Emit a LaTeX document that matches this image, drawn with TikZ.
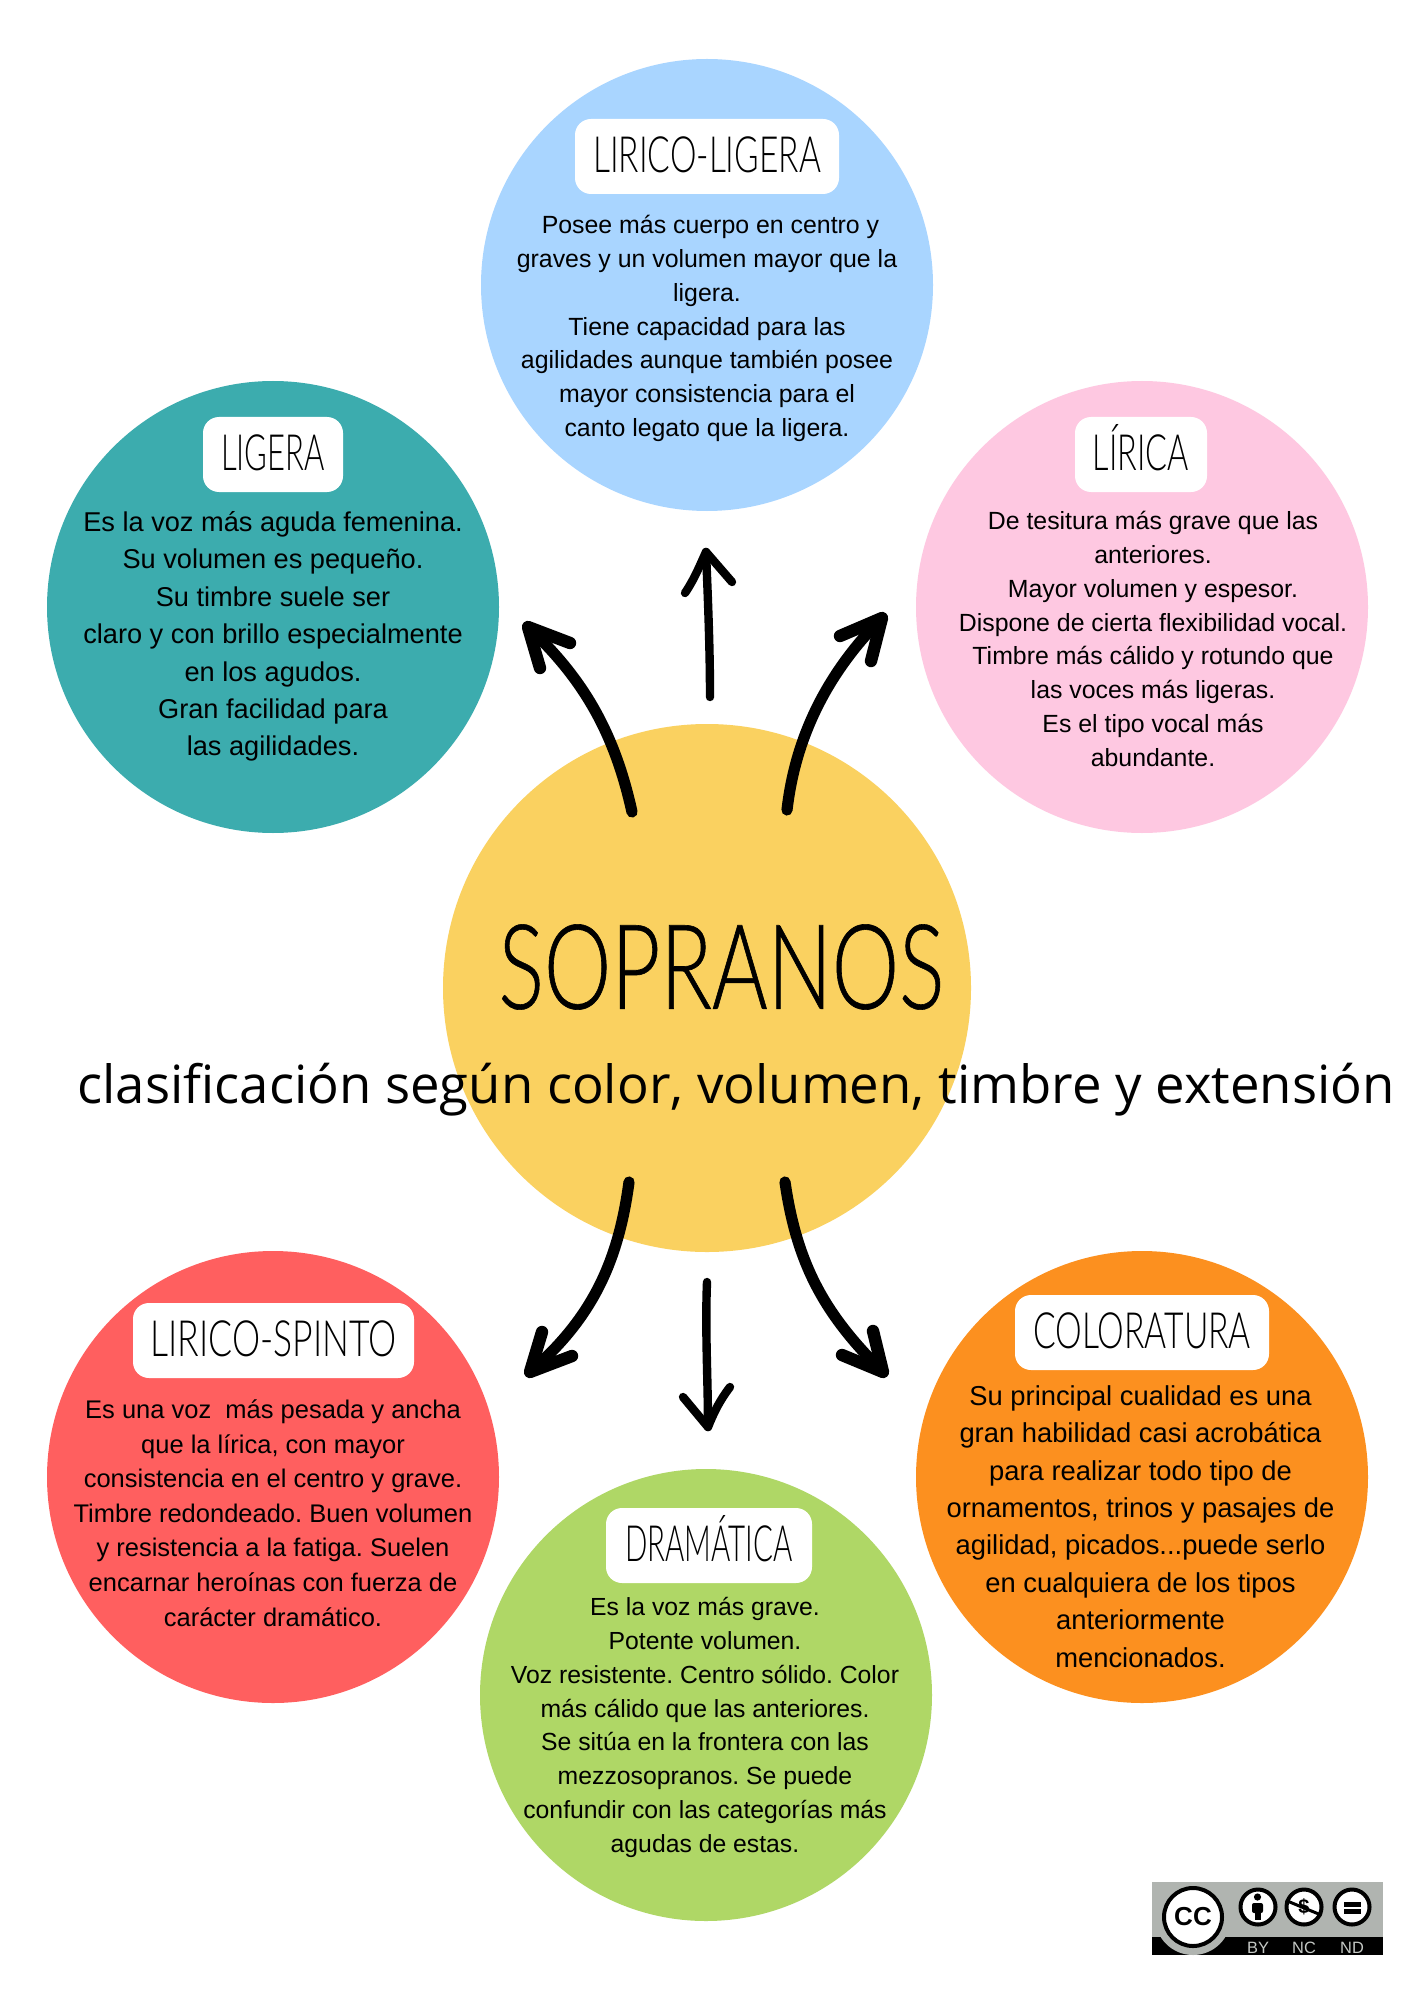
\documentclass[tikz,border=0pt]{standalone}
\usepackage{graphicx}
\usepackage{fontspec}
\setmainfont{Liberation Sans}
\newfontfamily\subfont{Open Sans}
\newfontfamily\titlefont[FakeStretch=0.62]{Lato Light}
\newfontfamily\bigfont[FakeStretch=0.72,FakeBold=0.5]{Lato Light}
\newcommand{\sx}[2]{\scalebox{#1}[1]{#2}}
\definecolor{cblue}{HTML}{A9D5FF}
\definecolor{cteal}{HTML}{3CACAE}
\definecolor{cpink}{HTML}{FEC8E1}
\definecolor{cyellow}{HTML}{FAD160}
\definecolor{cred}{HTML}{FF5F5F}
\definecolor{corange}{HTML}{FC901F}
\definecolor{cgreen}{HTML}{AFD766}
\definecolor{ccgray}{HTML}{B0B4B0}
\definecolor{cclight}{HTML}{C4C8C4}
\tikzset{
  disc/.style={circle,minimum size=226pt,inner sep=0pt,outer sep=0pt,fill=#1},
  card/.style={fill=white,rounded corners=8pt,inner sep=0pt,outer sep=0pt,minimum height=37.5pt,text height=18pt,text depth=2pt,font=\titlefont\fontsize{25}{25}\selectfont,text=black},
  bodyt/.style 2 args={align=center,inner sep=0pt,font=\fontsize{#1}{#2}\selectfont\frenchspacing,text=black},
  sk/.style={draw=black,line cap=round,line join=round,line width=5.6pt},
  skh/.style={draw=black,line cap=round,line join=round,line width=6.2pt},
  skm/.style={draw=black,line cap=round,line join=round,line width=4.2pt},
  badge/.style={circle,draw=black,fill=white,line width=2pt,minimum size=17.5pt,inner sep=0pt},
  cclab/.style={inner sep=0pt,text=cclight,font=\fontsize{8.2}{8.2}\selectfont},
}
\begin{document}
\begin{tikzpicture}[x=0.5pt,y=-0.5pt]
\useasboundingbox (0,0) rectangle (1414,2000);
\fill[white] (0,0) rectangle (1414,2000);
% discs
\node[disc=cyellow,minimum size=264pt] (centre) at (707,988) {};
\node[disc=cblue] (dblue) at (707,285) {};
\node[disc=cteal] (dteal) at (273,607) {};
\node[disc=cpink] (dpink) at (1142,607) {};
\node[disc=cred] (dred) at (273,1477) {};
\node[disc=corange] (dorange) at (1142,1477) {};
\node[disc=cgreen] (dgreen) at (706,1695) {};
% main titles
\node[inner sep=0pt,font=\bigfont\fontsize{59}{59}\selectfont] (main) at (721.5,967) {SOPRANOS};
\node[inner sep=0pt,font=\subfont\fontsize{26.33}{26.33}\selectfont] (sub) at (736,1090) {clasificación según color, volumen, timbre y extensión};
% cards
\node[card,minimum width=132pt] (tblue) at (707,156.5) {\sx{1.08}{LIRICO-LIGERA}};
\node[card,minimum width=70pt] (tteal) at (273,454.5) {LIGERA};
\node[card,minimum width=66pt] (tpink) at (1141,454.5) {\sx{1.045}{LÍRICA}};
\node[card,minimum width=140.5pt] (tred) at (273.5,1340.5) {\sx{1.147}{LIRICO-SPINTO}};
\node[card,minimum width=127pt] (torange) at (1142,1332.5) {\sx{1.085}{COLORATURA}};
\node[card,minimum width=103pt] (tgreen) at (709,1545.5) {\sx{0.95}{DRAMÁTICA}};
% body texts
\node[bodyt={12.44}{16.9}] (bblue) at (707,328.5) {\hspace{3.5pt}Posee más cuerpo en centro y\\graves y un volumen mayor que la\\ligera.\\Tiene capacidad para las\\agilidades aunque también posee\\mayor consistencia para el\\canto legato que la ligera.};
\node[bodyt={13.6}{18.7}] (bteal) at (273,636.5) {Es la voz más aguda femenina.\\Su volumen es pequeño.\\Su timbre suele ser\\claro y con brillo especialmente\\en los agudos.\\Gran facilidad para\\las agilidades.};
\node[bodyt={12.43}{16.9}] (bpink) at (1153,639) {De tesitura más grave que las\\anteriores.\\Mayor volumen y espesor.\\Dispone de cierta flexibilidad vocal.\\Timbre más cálido y rotundo que\\las voces más ligeras.\\Es el tipo vocal más\\abundante.};
\node[bodyt={12.75}{17.3}] (bred) at (273,1513) {Es una voz\ \ más pesada y ancha\\que la lírica, con mayor\\consistencia en el centro y grave.\\Timbre redondeado. Buen volumen\\y resistencia a la fatiga. Suelen\\encarnar heroínas con fuerza de\\carácter dramático.};
\node[bodyt={13.68}{18.7}] (borange) at (1140.5,1526.5) {Su principal cualidad es una\\gran habilidad casi acrobática\\para realizar todo tipo de\\ornamentos, trinos y pasajes de\\agilidad, picados...puede serlo\\en cualquiera de los tipos\\anteriormente\\mencionados.};
\node[bodyt={12.38}{16.9}] (bgreen) at (705,1727.5) {Es la voz más grave.\\Potente volumen.\\Voz resistente. Centro sólido. Color\\más cálido que las anteriores.\\Se sitúa en la frontera con las\\mezzosopranos. Se puede\\confundir con las categorías más\\agudas de estas.};
% arrow ends
\coordinate (a1s) at (632,812); \coordinate (a1e) at (528,627);
\coordinate (a2s) at (710,697); \coordinate (a2e) at (706,552);
\coordinate (a3s) at (787,810); \coordinate (a3e) at (882,618);
\coordinate (a4s) at (629,1182); \coordinate (a4e) at (530,1372);
\coordinate (a5s) at (707,1282); \coordinate (a5e) at (708,1427);
\coordinate (a6s) at (785,1182); \coordinate (a6e) at (883,1372);
% arrows
\draw[sk] (a1s) .. controls (615,735) and (585,680) .. (a1e);
\draw[skh] (540,668) -- (a1e) -- (570,643);
\draw[skm] (a2s) .. controls (710,650) and (708,600) .. (a2e);
\draw[skm] (685,593) .. controls (695,578) and (700,565) .. (a2e) -- (732,582);
\draw[sk] (a3s) .. controls (795,740) and (825,675) .. (a3e);
\draw[skh] (840,636) -- (a3e) -- (871,661);
\draw[sk] (a4s) .. controls (618,1265) and (590,1320) .. (a4e);
\draw[skh] (542,1332) -- (a4e) -- (572,1356);
\draw[skm] (a5s) .. controls (705,1330) and (708,1380) .. (a5e);
\draw[skm] (730,1387) .. controls (720,1400) and (714,1412) .. (a5e) -- (683,1397);
\draw[sk] (a6s) .. controls (797,1265) and (825,1315) .. (a6e);
\draw[skh] (873,1331) -- (a6e) -- (842,1355);
% licence badge
\fill[ccgray] (1152,1882) rectangle (1383,1955);
\fill[black] (1152,1937) rectangle (1383,1955);
\begin{scope}
\clip (1152,1882) rectangle (1383,1955);
\fill[ccgray] (1193,1917) circle[radius=38];
\end{scope}
\node[circle,draw=black,fill=white,line width=2pt,minimum size=29pt,inner sep=0pt,font=\bfseries\fontsize{13}{13}\selectfont] (ccb) at (1193,1917) {CC};
\node[badge] (by) at (1258,1907) {};
\node[badge] (nc) at (1304,1907) {};
\node[badge] (nd) at (1352,1907) {};
\fill[black] (1257.5,1897) circle[radius=3.6];
\fill[black,rounded corners=1pt] (1252,1903) rectangle (1263,1913);
\fill[black] (1254.5,1911) rectangle (1260.5,1920);
\node[inner sep=0pt,font=\bfseries\fontsize{10}{10}\selectfont] (ncs) at (1304,1907) {\$};
\draw[black,line width=1.5pt] (nc.160) -- (nc.-25);
\fill[black] (1344,1902) rectangle (1361,1907);
\fill[black] (1344,1909) rectangle (1361,1914);
\node[cclab] (lby) at (1258,1948) {BY};
\node[cclab] (lnc) at (1304,1948) {NC};
\node[cclab] (lnd) at (1352,1948) {ND};
\end{tikzpicture}
\end{document}
